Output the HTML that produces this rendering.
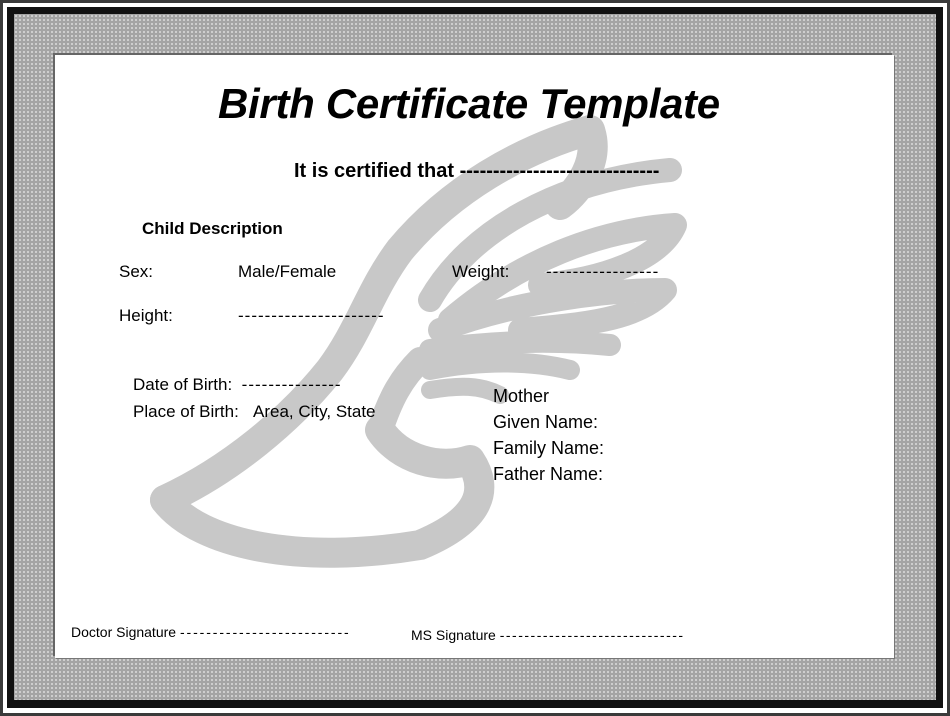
<!DOCTYPE html>
<html><head><style>
body{margin:0;width:950px;height:716px;background:#3a3a3a;position:relative;overflow:hidden;font-family:"Liberation Sans",sans-serif}
.w1{position:absolute;left:3px;top:3px;width:944px;height:710px;background:#fff}
.b1{position:absolute;left:7px;top:7px;width:936px;height:701px;background:#111}
.g1{position:absolute;left:14px;top:14px;width:922px;height:686px;background-color:#a4a4a4;
background-image:radial-gradient(circle,#d8d8d8 0.9px,transparent 1.1px);background-size:4px 4px}
.in{position:absolute;left:55px;top:55px;width:839px;height:603px;background:#fff;box-shadow:-2px -2px 0 #666,1px 1px 0 #777}
.t{position:absolute;white-space:nowrap;color:#000;font-size:17px}
</style></head><body>
<div class="w1"></div><div class="b1"></div><div class="g1"></div><div class="in"></div>
<svg style="position:absolute;left:0;top:0" width="950" height="716">
<g fill="none" stroke="#c8c8c8" stroke-linecap="round" stroke-linejoin="round">
<path d="M165,500 C230,470 290,420 330,370 C360,330 370,290 400,250 C450,190 520,150 590,130 C600,160 580,190 560,205" stroke-width="30"/>
<path d="M165,500 C200,545 300,565 420,545 C480,520 490,490 470,460 C440,470 400,460 380,430" stroke-width="30"/>
<path d="M380,430 C390,400 400,380 420,360" stroke-width="26"/>
<path d="M430,300 C470,230 560,180 670,170" stroke-width="24"/>
<path d="M450,320 C520,260 600,230 675,225 C660,260 600,280 540,285" stroke-width="24"/>
<path d="M440,330 C520,300 610,290 665,290 C640,320 580,325 520,330" stroke-width="24"/>
<path d="M430,350 C500,340 560,340 610,345" stroke-width="22"/>
<path d="M430,370 C480,360 530,360 570,370" stroke-width="20"/>
<path d="M430,390 C460,385 480,385 500,395" stroke-width="18"/>
</g></svg>
<div class="t" style="left:218px;top:80px;font-size:42px;font-weight:bold;font-style:italic;letter-spacing:-0.3px">Birth Certificate Template</div>
<div class="t" style="left:294px;top:160px;font-size:20px;font-weight:bold">It is certified that ------------------------------</div>
<div class="t" style="left:142px;top:219px;font-weight:bold">Child Description</div>
<div class="t" style="left:119px;top:262px">Sex:</div>
<div class="t" style="left:238px;top:262px">Male/Female</div>
<div class="t" style="left:452px;top:262px">Weight:</div>
<div class="t" style="left:546px;top:262px;letter-spacing:1px">-----------------</div>
<div class="t" style="left:119px;top:306px">Height:</div>
<div class="t" style="left:238px;top:306px;letter-spacing:1px">----------------------</div>
<div class="t" style="left:133px;top:375px">Date of Birth:&nbsp; <span style="letter-spacing:1px">---------------</span></div>
<div class="t" style="left:133px;top:402px">Place of Birth:&nbsp; &nbsp;Area, City, State</div>
<div class="t" style="left:493px;top:386px;font-size:18px">Mother</div>
<div class="t" style="left:493px;top:412px;font-size:18px">Given Name:</div>
<div class="t" style="left:493px;top:438px;font-size:18px">Family Name:</div>
<div class="t" style="left:493px;top:464px;font-size:18px">Father Name:</div>
<div class="t" style="left:71px;top:624px;font-size:14px">Doctor Signature <span style="letter-spacing:1.9px">--------------------------</span></div>
<div class="t" style="left:411px;top:627px;font-size:14px">MS Signature <span style="letter-spacing:1.5px">------------------------------</span></div>
</body></html>
